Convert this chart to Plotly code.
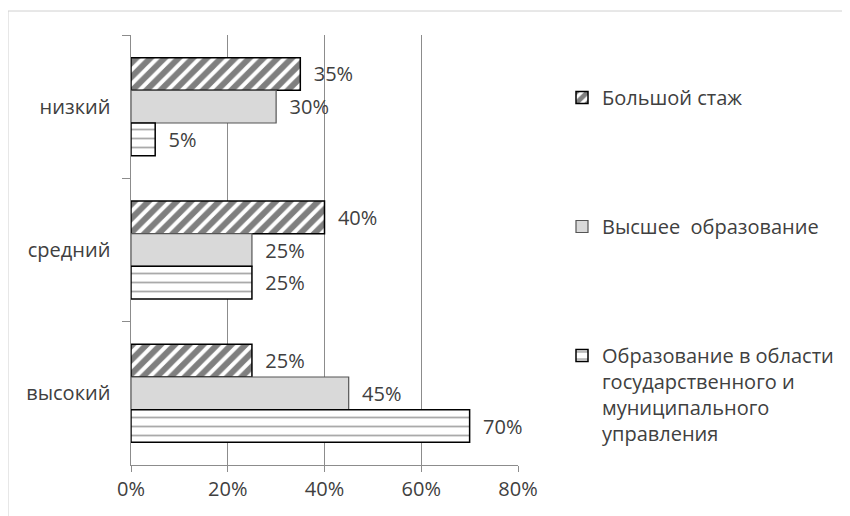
import plotly.graph_objects as go

categories = ["низкий", "средний", "высокий"]
series_names = [
    "Большой стаж",
    "Высшее  образование",
    "Образование в области<br>государственного и<br>муниципального<br>управления",
]
stazh = [0.35, 0.40, 0.25]
vysshee = [0.30, 0.25, 0.45]
gmu = [0.05, 0.25, 0.70]
x_ticks = [0, 0.2, 0.4, 0.6, 0.8]
x_tick_labels = ["0%", "20%", "40%", "60%", "80%"]

font_family = "Open Sans, DejaVu Sans, sans-serif"
txt_color = "#404040"
fs = 20

# page offset (body margin) of 8px
OFF = 8
PL, PR, PT, PB = 131, 518, 35, 465  # plot area in page pixels
PW, PH = PR - PL, PB - PT

def labels(vals):
    return ["  %d%%" % round(v * 100) for v in vals]

fig = go.Figure()
fig.add_trace(go.Bar(
    y=categories, x=stazh, orientation="h", name=series_names[0],
    legendgroup="a",
    marker=dict(color="white", line=dict(color="black", width=1.5),
                pattern=dict(shape="/", fgcolor="black", bgcolor="white", size=10, solidity=0.6)),
    text=labels(stazh), textposition="outside", cliponaxis=False,
    textfont=dict(size=fs, color=txt_color, family=font_family),
))
fig.add_trace(go.Bar(
    y=categories, x=vysshee, orientation="h", name=series_names[1],
    legendgroup="b",
    marker=dict(color="#d9d9d9", line=dict(color="#555555", width=1.2)),
    text=labels(vysshee), textposition="outside", cliponaxis=False,
    textfont=dict(size=fs, color=txt_color, family=font_family),
))
fig.add_trace(go.Bar(
    y=categories, x=gmu, orientation="h", name=series_names[2],
    legendgroup="c",
    marker=dict(color="white", line=dict(color="black", width=1.5),
                pattern=dict(shape="-", fgcolor="#555555", bgcolor="white", size=9, solidity=0.2)),
    text=labels(gmu), textposition="outside", cliponaxis=False,
    textfont=dict(size=fs, color=txt_color, family=font_family),
))

fig.update_layout(
    width=850, height=516,
    margin=dict(l=PL - OFF, r=850 - (PR - OFF), t=PT - OFF, b=516 - (PB - OFF), autoexpand=False),
    paper_bgcolor="white", plot_bgcolor="white",
    barmode="group", bargap=0.316, bargroupgap=0,
    font=dict(family=font_family, size=fs, color=txt_color),
    showlegend=True,
    legend=dict(
        x=(562 - PL) / PW, y=(PB - 78) / PH, xanchor="left", yanchor="top",
        tracegroupgap=100, valign="top",
        font=dict(size=fs, color=txt_color, family=font_family),
        itemwidth=30,
    ),
    xaxis=dict(
        range=[0, 0.8], tickvals=x_ticks, ticktext=x_tick_labels,
        showgrid=True, gridcolor="#8c8c8c", gridwidth=1,
        showline=True, linecolor="#8c8c8c", linewidth=1,
        ticks="outside", ticklen=6, tickcolor="#8c8c8c",
        zeroline=False, tickfont=dict(size=fs, color=txt_color),
    ),
    yaxis=dict(
        autorange="reversed", type="category",
        showline=True, linecolor="#8c8c8c", linewidth=1,
        ticks="outside", ticklen=8, tickcolor="#8c8c8c", tickson="boundaries",
        showgrid=False, tickfont=dict(size=fs, color=txt_color),
        ticksuffix="   ",
    ),
    shapes=[
        dict(type="line", xref="paper", yref="paper",
             x0=(8 - PL) / PW, x1=(858 - PL) / PW,
             y0=(PB - 11) / PH, y1=(PB - 11) / PH,
             line=dict(color="#d0d0d0", width=1)),
        dict(type="line", xref="paper", yref="paper",
             x0=(8 - PL) / PW, x1=(8 - PL) / PW,
             y0=(PB - 11) / PH, y1=(PB - 530) / PH,
             line=dict(color="#d0d0d0", width=1)),
    ],
)

fig.write_html("out.html")
